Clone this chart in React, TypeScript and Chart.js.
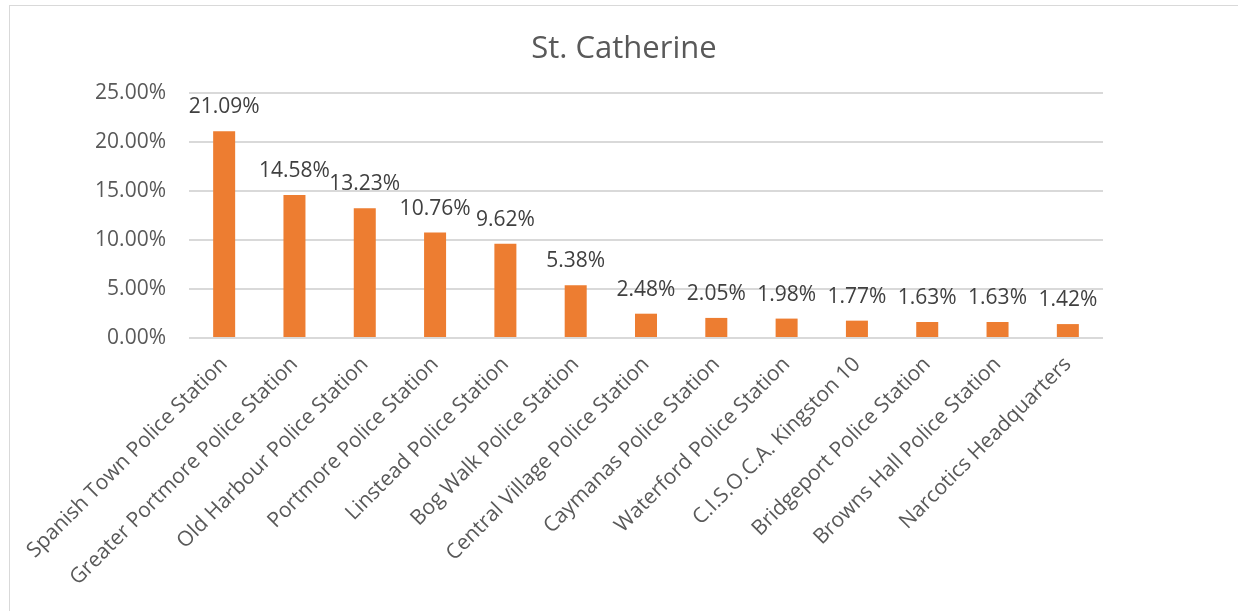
import React, { useEffect, useRef } from "react";
import { Chart, registerables } from "chart.js";

Chart.register(...registerables);

const TITLE = "St. Catherine";
const categories = [
  "Spanish Town Police Station",
  "Greater Portmore Police Station",
  "Old Harbour Police Station",
  "Portmore Police Station",
  "Linstead Police Station",
  "Bog Walk Police Station",
  "Central Village Police Station",
  "Caymanas Police Station",
  "Waterford Police Station",
  "C.I.S.O.C.A. Kingston 10",
  "Bridgeport Police Station",
  "Browns Hall Police Station",
  "Narcotics Headquarters",
];
const values = [21.09, 14.58, 13.23, 10.76, 9.62, 5.38, 2.48, 2.05, 1.98, 1.77, 1.63, 1.63, 1.42];
const yTicks = [0, 5, 10, 15, 20, 25];

const FONT = "'Open Sans', sans-serif";

const dataLabels = {
  id: "dataLabels",
  afterDatasetsDraw(chart: any) {
    const ctx = chart.ctx;
    const meta = chart.getDatasetMeta(0);
    ctx.save();
    ctx.font = `21px ${FONT}`;
    ctx.fillStyle = "#404040";
    ctx.textAlign = "center";
    ctx.textBaseline = "middle";
    meta.data.forEach((bar: any, i: number) => {
      ctx.fillText(values[i].toFixed(2) + "%", bar.x, bar.y - 24);
    });
    ctx.restore();
  },
};

const centeredTitle = {
  id: "centeredTitle",
  afterDraw(chart: any) {
    const ctx = chart.ctx;
    ctx.save();
    ctx.font = `31px ${FONT}`;
    ctx.fillStyle = "#595959";
    ctx.textAlign = "center";
    ctx.textBaseline = "alphabetic";
    ctx.fillText(TITLE, 624, 58);
    ctx.restore();
  },
};

export default function App() {
  const ref = useRef<HTMLCanvasElement | null>(null);
  useEffect(() => {
    if (!ref.current) return;
    const chart = new Chart(ref.current, {
      type: "bar",
      data: {
        labels: categories,
        datasets: [
          {
            data: values,
            backgroundColor: "#ED7D31",
            barPercentage: 0.313,
            categoryPercentage: 1,
          },
        ],
      },
      options: {
        responsive: false,
        animation: false,
        layout: { padding: { top: 93, right: 135, bottom: 0, left: 0 } },
        plugins: {
          legend: { display: false },
          tooltip: { enabled: false },
          title: { display: false },
        },
        scales: {
          x: {
            grid: { display: false },
            border: { display: false },
            ticks: {
              color: "#595959",
              font: { family: FONT, size: 21 },
              maxRotation: 45,
              minRotation: 45,
              autoSkip: false,
              padding: 6,
            },
            afterFit(scale: any) {
              scale.height = 273;
              scale.paddingLeft = 0;
              scale.paddingRight = 0;
            },
          },
          y: {
            min: 0,
            max: 25,
            afterBuildTicks(scale: any) {
              scale.ticks = yTicks.map((v) => ({ value: v }));
            },
            grid: { color: "#D9D9D9", lineWidth: 2, drawTicks: false },
            border: { display: false },
            ticks: {
              color: "#595959",
              font: { family: FONT, size: 21 },
              padding: 23,
              callback: (v: any) => Number(v).toFixed(2) + "%",
            },
            afterFit(scale: any) {
              scale.width = 189;
              scale.paddingTop = 0;
              scale.paddingBottom = 0;
            },
          },
        },
      },
      plugins: [dataLabels, centeredTitle],
    });
    return () => chart.destroy();
  }, []);
  return (
    <div style={{ position: "absolute", left: 0, top: 0, width: 1238, height: 611, background: "#fff" }}>
      <div
        style={{
          position: "absolute",
          left: 9,
          top: 5,
          width: 1240,
          height: 620,
          borderLeft: "1.5px solid #D9D9D9",
          borderTop: "1.5px solid #D9D9D9",
        }}
      />
      <canvas ref={ref} width={1238} height={611} style={{ position: "absolute", left: 0, top: 0 }} />
    </div>
  );
}
